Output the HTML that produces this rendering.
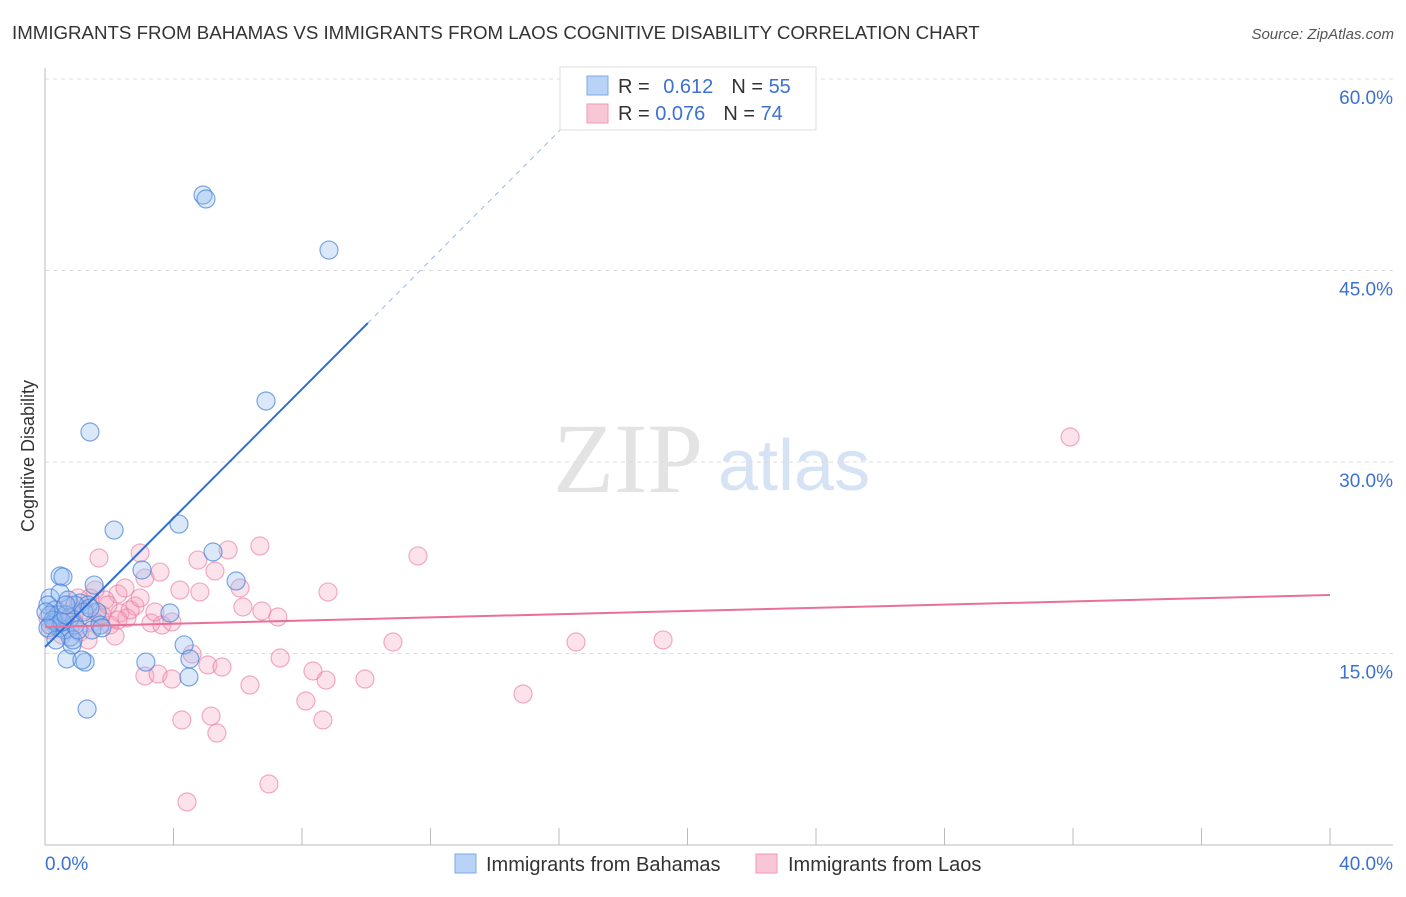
<!DOCTYPE html>
<html><head><meta charset="utf-8"><style>
body{margin:0;background:#fff;font-family:"Liberation Sans",sans-serif}
svg text{font-family:"Liberation Sans",sans-serif}
svg text.serif{font-family:"Liberation Serif",serif}
</style></head><body>
<svg id="c" width="1406" height="892" xmlns="http://www.w3.org/2000/svg">
<text x="12" y="39" font-size="18.7" fill="#333">IMMIGRANTS FROM BAHAMAS VS IMMIGRANTS FROM LAOS COGNITIVE DISABILITY CORRELATION CHART</text>
<text x="1394" y="39" font-size="15" fill="#555" font-style="italic" text-anchor="end">Source: ZipAtlas.com</text>
<text x="34" y="456" font-size="18" fill="#333" transform="rotate(-90 34 456)" text-anchor="middle">Cognitive Disability</text>
<text class="serif" x="553" y="492" font-size="100" fill="#e3e3e3">ZIP</text>
<text x="718" y="490" font-size="72" fill="#d5e3f5">atlas</text>
<g id="grid"></g><g id="axes"></g><g id="pts"></g><g id="lines"></g>
<g>
<rect x="560" y="67" width="256" height="63" fill="#fff" stroke="#ddd"/>
<rect x="587" y="76" width="21" height="19" fill="#b8d3f5" stroke="#7eaae8"/>
<rect x="587" y="104" width="21" height="19" fill="#f9c6d6" stroke="#ee9ab5"/>
<text x="618" y="93" font-size="20" fill="#333">R = <tspan fill="#3b72d1" dx="8">0.612</tspan><tspan dx="18" fill="#333">N = </tspan><tspan fill="#3b72d1">55</tspan></text>
<text x="618" y="120" font-size="20" fill="#333">R = <tspan fill="#3b72d1">0.076</tspan><tspan dx="18" fill="#333">N = </tspan><tspan fill="#3b72d1">74</tspan></text>
</g>
<g>
<rect x="455" y="854" width="21" height="19" fill="#b8d3f5" stroke="#7eaae8"/>
<text x="486" y="871" font-size="20" fill="#333">Immigrants from Bahamas</text>
<rect x="756" y="854" width="21" height="19" fill="#f9c6d6" stroke="#ee9ab5"/>
<text x="788" y="871" font-size="20" fill="#333">Immigrants from Laos</text>
</g>
</svg>
<script>
const yTicks=[15,30,45,60];
const yTickLabels=["15.0%","30.0%","45.0%","60.0%"];
const xTicks=[4,8,12,16,20,24,28,32,36,40];
const bahamasX=[1.40,4.92,5.01,8.84,6.88,4.17,2.15,5.23,5.95,3.02,0.47,0.56,1.53,3.89,4.33,3.14,4.51,4.48,0.68,1.25,1.15,1.31,0.84,0.78,0.16,0.47,0.09,0.31,0.16,0.31,0.47,0.62,0.78,0.93,1.09,1.34,1.46,1.62,1.71,0.93,0.40,0.16,0.25,0.72,0.87,0.53,0.65,1.03,1.21,1.40,0.03,0.09,1.77,0.65,0.34];
const bahamasY=[32.35,50.91,50.60,46.60,34.78,25.14,24.67,22.95,20.68,21.54,21.07,20.99,20.36,18.17,15.67,14.33,14.57,13.16,14.57,14.33,14.49,10.65,15.67,16.29,19.35,19.74,18.80,18.41,18.02,17.47,17.00,16.84,17.78,17.23,18.96,18.80,16.84,18.25,17.23,18.80,18.02,17.23,17.62,19.19,16.06,17.47,18.02,16.84,18.25,18.56,18.25,17.00,17.00,18.80,16.06];
const laosX=[31.91,11.61,6.69,5.70,4.76,2.96,1.68,5.29,3.11,3.58,4.20,4.82,6.07,8.81,2.27,1.56,2.80,6.16,6.75,7.25,3.30,3.64,3.95,2.33,2.55,2.02,2.18,10.83,16.53,19.24,4.58,5.07,5.51,7.32,8.34,8.75,9.96,3.11,3.52,3.95,6.38,8.12,14.88,4.26,5.17,8.65,5.35,4.42,6.97,1.87,1.40,1.25,0.93,0.62,0.78,1.09,0.31,0.09,0.47,1.71,2.65,1.96,1.56,1.03,2.96,3.42,2.49,0.78,0.16,0.53,1.34,1.77,2.27,0.90];
const laosY=[31.96,22.64,23.42,23.11,22.32,22.87,22.48,21.46,20.91,21.38,19.97,19.82,20.13,19.82,19.66,19.97,18.72,18.64,18.33,17.86,17.39,17.23,17.47,18.17,17.78,17.23,16.37,15.90,15.90,16.06,14.96,14.10,13.94,14.65,13.63,12.92,13.00,13.24,13.39,13.00,12.53,11.28,11.83,9.79,10.10,9.79,8.77,3.37,4.78,19.19,19.35,18.41,18.25,17.62,17.00,16.68,17.23,17.78,18.25,17.78,18.41,18.80,17.47,19.35,19.35,18.25,20.13,18.80,16.84,16.45,16.06,18.02,17.62,17.47];
const bahamasTrend=[15.51,2.525]; // intercept, slope
const laosTrend=[17.08,0.0625];
const X=v=>45+v*32.125, Y=v=>845-v*12.767;
const NS="http://www.w3.org/2000/svg";
function mk(t,a,p){const e=document.createElementNS(NS,t);for(const k in a)e.setAttribute(k,a[k]);p.appendChild(e);return e;}
const grid=document.getElementById('grid'),axes=document.getElementById('axes'),pts=document.getElementById('pts'),lines=document.getElementById('lines');
yTicks.forEach((t,i)=>{
 const l=mk('line',{x1:45,x2:1393,y1:Y(t),y2:Y(t),stroke:'#ddd','stroke-dasharray':'4,4'},grid);
 
 
 const tx=mk('text',{x:1393,y:Y(t)+25,'font-size':19,fill:'#3b72d1','text-anchor':'end'},grid);tx.textContent=yTickLabels[i];
 
 
});
const ya=mk('line',{x1:45,x2:45,y1:68,y2:845,stroke:'#bbb'},axes);


const xa=mk('line',{x1:45,x2:1393,y1:845,y2:845,stroke:'#bbb'},axes);


xTicks.forEach(t=>{const l=mk('line',{x1:X(t),x2:X(t),y1:828,y2:845,stroke:'#bbb'},axes);
 
 });
const xl0=mk('text',{x:45,y:870,'font-size':19,fill:'#3b72d1'},axes);xl0.textContent='0.0%';


const xl1=mk('text',{x:1393,y:870,'font-size':19,fill:'#3b72d1','text-anchor':'end'},axes);xl1.textContent='40.0%';


laosX.forEach((x,i)=>{const c=mk('circle',{cx:X(x),cy:Y(laosY[i]),r:9,fill:'rgba(244,160,188,0.3)',stroke:'rgba(232,120,158,0.6)','stroke-width':1.2},pts);
 
 });
bahamasX.forEach((x,i)=>{const c=mk('circle',{cx:X(x),cy:Y(bahamasY[i]),r:9,fill:'rgba(150,190,240,0.35)',stroke:'rgba(70,130,215,0.7)','stroke-width':1.2},pts);
 
 });
const bx1=10.05,bx2=17.1;
const bl=mk('line',{x1:X(0),y1:Y(bahamasTrend[0]),x2:X(bx1),y2:Y(bahamasTrend[0]+bahamasTrend[1]*bx1),stroke:'#2f6fd6','stroke-width':2},lines);


const bd=mk('line',{x1:X(bx1),y1:Y(bahamasTrend[0]+bahamasTrend[1]*bx1),x2:X(bx2),y2:Y(bahamasTrend[0]+bahamasTrend[1]*bx2),stroke:'#9bb8e6','stroke-width':1,'stroke-dasharray':'5,5'},lines);


const pl=mk('line',{x1:X(0),y1:Y(laosTrend[0]),x2:X(40),y2:Y(laosTrend[0]+laosTrend[1]*40),stroke:'#e8709a','stroke-width':2},lines);


</script>
</body></html>
